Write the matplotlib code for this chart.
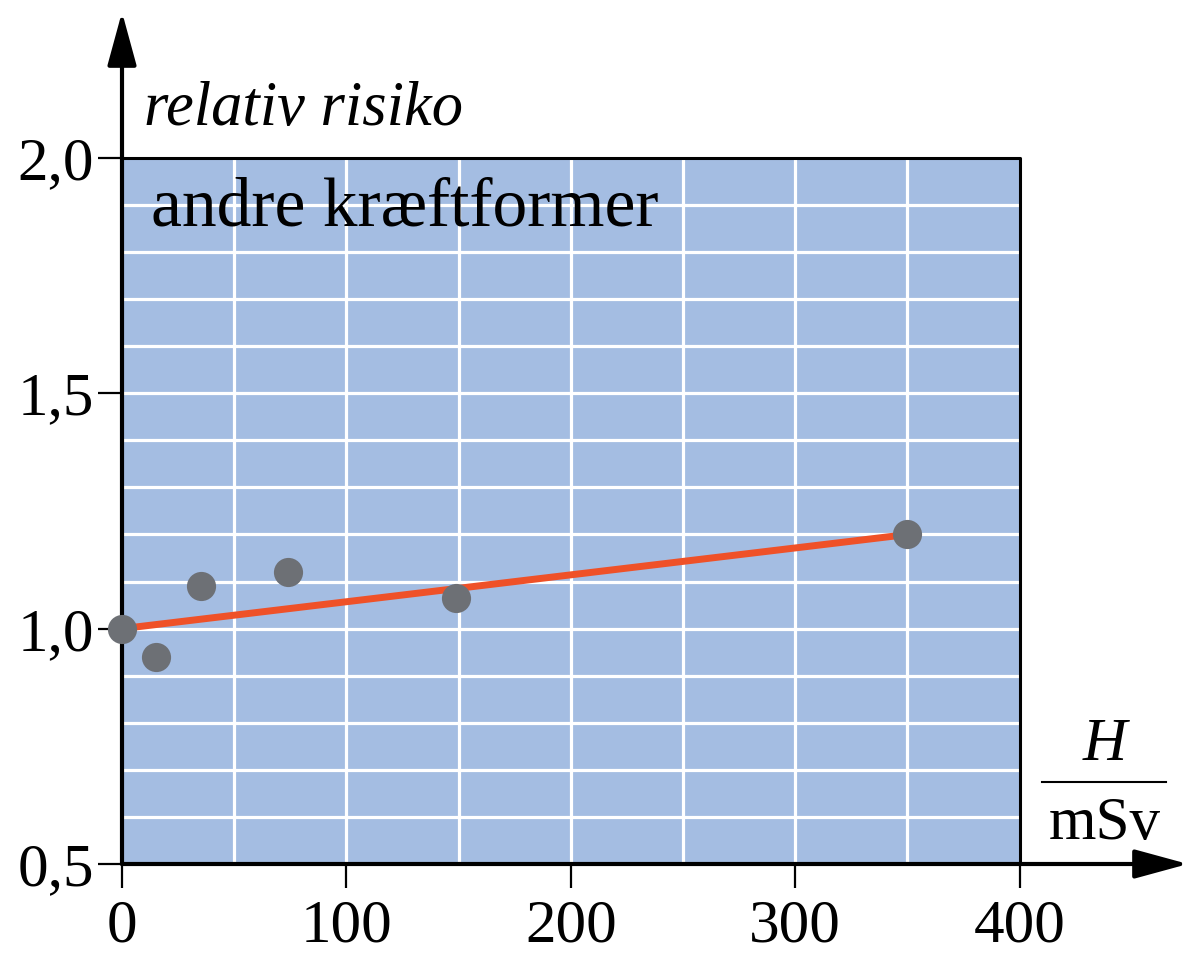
import numpy as np
import matplotlib.pyplot as plt
from matplotlib.patches import Rectangle

# data
dose = [0, 15, 35, 74, 149, 350]
risk = [1.00, 0.94, 1.09, 1.12, 1.065, 1.20]
fit_x = [0, 350]
fit_y = [1.00, 1.20]
xticks = [0, 100, 200, 300, 400]
yticks = [0.5, 1.0, 1.5, 2.0]
ytick_labels = ['0,5', '1,0', '1,5', '2,0']

serif = ['Liberation Serif', 'DejaVu Serif']
fs = 44

fig = plt.figure(figsize=(11.96, 9.56), dpi=100)
ax = fig.add_axes([122 / 1196, 92 / 956, 1066 / 1196, 852 / 956])
ax.set_xlim(0, 475)
ax.set_ylim(0.5, 2.31)
for s in ax.spines.values():
    s.set_visible(False)
ax.patch.set_alpha(0)

# blue panel with white grid
ax.add_patch(Rectangle((0, 0.5), 400, 1.5, facecolor='#a4bde2', edgecolor='none', zorder=0))
for gx in np.arange(50, 400, 50):
    ax.plot([gx, gx], [0.5, 2.0], color='white', lw=2.3, zorder=1)
for gy in np.arange(0.6, 1.95, 0.1):
    ax.plot([0, 400], [gy, gy], color='white', lw=2.3, zorder=1)
ax.plot([0, 400, 400], [2.0, 2.0, 0.5], color='black', lw=2.2, zorder=2)

# axes with arrows
arr = dict(arrowstyle='-|>,head_length=1.1,head_width=0.3', lw=3, color='black',
           mutation_scale=30, shrinkA=0, shrinkB=0)
ax.annotate('', xy=(0, 2.31), xytext=(0, 0.5), arrowprops=arr, annotation_clip=False, zorder=3)
ax.annotate('', xy=(475, 0.5), xytext=(0, 0.5), arrowprops=arr, annotation_clip=False, zorder=3)

ax.set_xticks(xticks)
ax.set_xticklabels([str(t) for t in xticks], family=serif, fontsize=fs)
ax.set_yticks(yticks)
ax.set_yticklabels(ytick_labels, family=serif, fontsize=fs)
ax.tick_params(axis='both', direction='out', length=17, width=1.6, color='black')
ax.tick_params(axis='x', pad=8)
ax.tick_params(axis='y', pad=3)

# fit line and data points
ax.plot(fit_x, fit_y, color='#ef5128', lw=5, zorder=4, solid_capstyle='butt')
ax.plot(dose, risk, 'o', color='#6d7075', ms=21, mec='none', zorder=5, clip_on=False)

# labels
ax.text(10, 2.07, 'relativ risiko', family=serif, style='italic', fontsize=fs + 1,
        ha='left', va='baseline')
ax.text(13, 1.856, 'andre kræftformer', family=serif, fontsize=50, ha='left', va='baseline')
ax.text(438, 0.752, 'H', family=serif, style='italic', fontsize=fs, ha='center', va='center')
ax.plot([410, 465], [0.675, 0.675], color='black', lw=1.5, clip_on=False)
ax.text(438, 0.585, 'mSv', family=serif, fontsize=fs, ha='center', va='center')

fig.savefig('out.png', dpi=100)
